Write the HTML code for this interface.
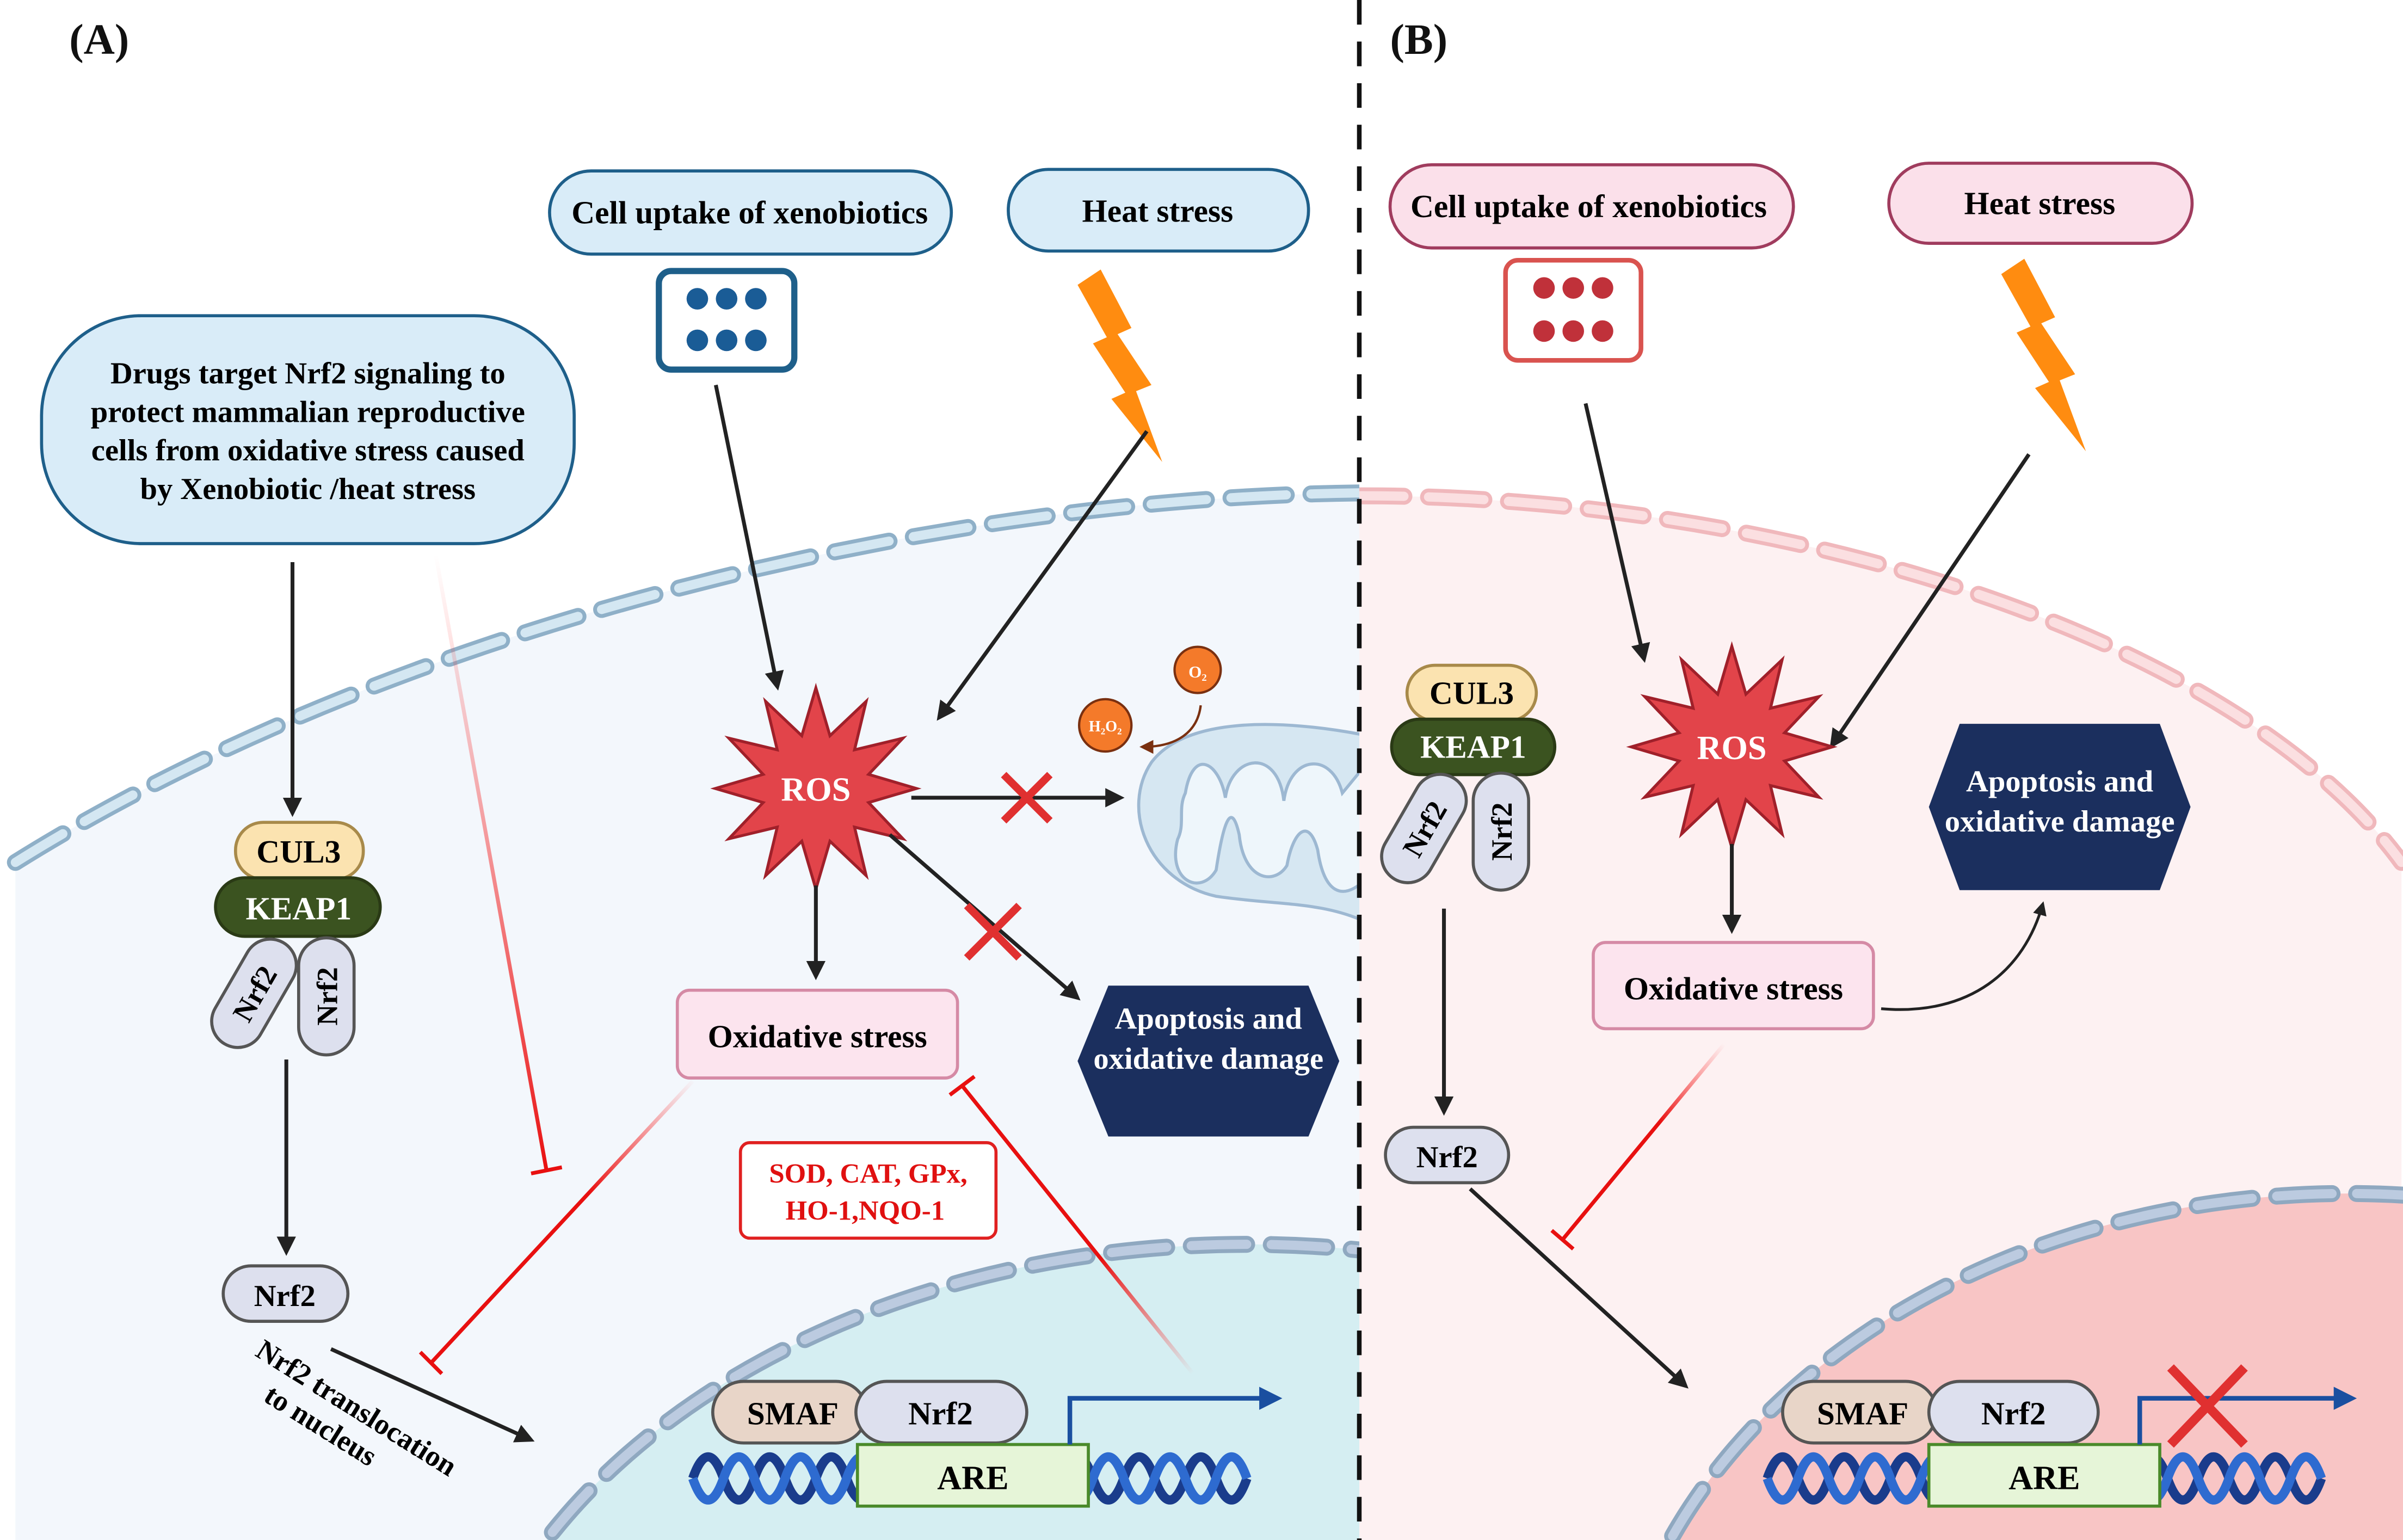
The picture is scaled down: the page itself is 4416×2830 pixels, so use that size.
<!DOCTYPE html>
<html><head><meta charset="utf-8">
<style>html,body{margin:0;padding:0;background:#fff;overflow:hidden;width:4416px;height:2830px}svg{display:block}
text{font-family:"Liberation Serif",serif;font-weight:bold}</style></head>
<body>
<svg width="4416" height="2830" viewBox="0 0 1561 1000" preserveAspectRatio="none" xmlns="http://www.w3.org/2000/svg">
<defs>
<marker id="ah" viewBox="0 0 10 10" refX="8" refY="5" markerWidth="5" markerHeight="5" orient="auto"><path d="M0,0L10,5L0,10z" fill="#222"/></marker>
<marker id="ahb" viewBox="0 0 10 10" refX="8" refY="5" markerWidth="5" markerHeight="5" orient="auto"><path d="M0,0L10,5L0,10z" fill="#1a4fa0"/></marker>
<marker id="ahr" viewBox="0 0 10 10" refX="8" refY="5" markerWidth="6" markerHeight="6" orient="auto"><path d="M0,0L10,5L0,10z" fill="#7a3010"/></marker>
<linearGradient id="g1" gradientUnits="userSpaceOnUse" x1="283" y1="360" x2="355" y2="760"><stop offset="0" stop-color="#ff4040" stop-opacity="0"/><stop offset="1" stop-color="#e81010"/></linearGradient>
<linearGradient id="g2" gradientUnits="userSpaceOnUse" x1="450" y1="700" x2="280" y2="885"><stop offset="0" stop-color="#ff4040" stop-opacity="0"/><stop offset="0.4" stop-color="#e81010"/><stop offset="1" stop-color="#e81010"/></linearGradient>
<linearGradient id="g3" gradientUnits="userSpaceOnUse" x1="775" y1="892" x2="625" y2="705"><stop offset="0" stop-color="#ff4040" stop-opacity="0"/><stop offset="0.4" stop-color="#e81010"/><stop offset="1" stop-color="#e81010"/></linearGradient>
<linearGradient id="g4" gradientUnits="userSpaceOnUse" x1="1120" y1="678" x2="1015" y2="805"><stop offset="0" stop-color="#ff4040" stop-opacity="0"/><stop offset="0.4" stop-color="#e81010"/><stop offset="1" stop-color="#e81010"/></linearGradient>
<clipPath id="cA"><rect x="0" y="0" width="883" height="1000"/></clipPath>
<clipPath id="cB"><rect x="883" y="0" width="678" height="1000"/></clipPath>
<symbol id="star" viewBox="-75 -75 150 150" overflow="visible">
<polygon points="0,-70 9.8,-36.7 35,-60.6 26.9,-26.9 60.6,-35 36.7,-9.8 70,0 36.7,9.8 60.6,35 26.9,26.9 35,60.6 9.8,36.7 0,70 -9.8,36.7 -35,60.6 -26.9,26.9 -60.6,35 -36.7,9.8 -70,0 -36.7,-9.8 -60.6,-35 -26.9,-26.9 -35,-60.6 -9.8,-36.7" fill="#e2444a" stroke="#a0202a" stroke-width="2"/>
</symbol>
<symbol id="bolt" viewBox="0 0 55 125" overflow="visible">
<polygon points="0,10 15,0 35,38 26,42 48,75 38,79 55,125 22,84 31,80 10,48 19,44" fill="#ff8c10"/>
</symbol>
</defs>

<g clip-path="url(#cA)">
<path d="M10,560 C250,410 600,322 890,320 L890,1000 L10,1000Z" fill="#f3f7fc"/>
<path d="M10,560 C250,410 600,322 890,320" fill="none" stroke="#8fb0c8" stroke-width="11" stroke-dasharray="36 16" stroke-linecap="round"/>
<path d="M10,560 C250,410 600,322 890,320" fill="none" stroke="#d4e7f2" stroke-width="6" stroke-dasharray="36 16" stroke-linecap="round"/>
<ellipse cx="810" cy="1180" rx="520" ry="372" fill="#d5eef2"/>
<ellipse cx="810" cy="1180" rx="520" ry="372" fill="none" stroke="#8fa8c0" stroke-width="11" stroke-dasharray="36 16" stroke-linecap="round"/>
<ellipse cx="810" cy="1180" rx="520" ry="372" fill="none" stroke="#bccbe0" stroke-width="6" stroke-dasharray="36 16" stroke-linecap="round"/>
<path d="M890,478 C830,466 770,466 748,495 C728,525 745,572 790,582 C830,588 860,585 890,600Z" fill="#d6e7f2" stroke="#9db8d2" stroke-width="2"/>
<path d="M770,515 C775,485 792,495 796,518 C800,490 830,485 834,520 C838,490 865,488 872,515 L886,498 L886,572 C872,585 860,580 856,552 C850,530 840,540 836,562 C828,575 808,572 805,542 C800,520 795,532 790,565 C780,582 758,572 765,545 C770,535 765,525 770,515Z" fill="#eef6fb" stroke="#9db8d2" stroke-width="2"/>
</g>

<g clip-path="url(#cB)">
<path d="M876,322 C1150,320 1450,410 1560,560 L1560,1000 L876,1000Z" fill="#fdf1f2"/>
<path d="M876,322 C1150,320 1450,410 1560,560" fill="none" stroke="#f0b8bc" stroke-width="11" stroke-dasharray="36 16" stroke-linecap="round"/>
<path d="M876,322 C1150,320 1450,410 1560,560" fill="none" stroke="#fbdfe1" stroke-width="6" stroke-dasharray="36 16" stroke-linecap="round"/>
<ellipse cx="1525" cy="1150" rx="480" ry="375" fill="#f8c5c5"/>
<ellipse cx="1525" cy="1150" rx="480" ry="375" fill="none" stroke="#8fa8c0" stroke-width="11" stroke-dasharray="36 16" stroke-linecap="round"/>
<ellipse cx="1525" cy="1150" rx="480" ry="375" fill="none" stroke="#bccbe0" stroke-width="6" stroke-dasharray="36 16" stroke-linecap="round"/>
</g>

<line x1="883" y1="0" x2="883" y2="1000" stroke="#111" stroke-width="3" stroke-dasharray="16 11"/>
<text x="45" y="35" font-size="28" fill="#111">(A)</text>
<text x="903" y="35" font-size="28" fill="#111">(B)</text>

<rect x="357" y="111" width="261" height="54" rx="27" fill="#d9ecf8" stroke="#1e5f8a" stroke-width="2"/>
<text x="487" y="145" font-size="21" text-anchor="middle">Cell uptake of xenobiotics</text>
<rect x="655" y="110" width="195" height="53" rx="26" fill="#d9ecf8" stroke="#1e5f8a" stroke-width="2"/>
<text x="752" y="144" font-size="21" text-anchor="middle">Heat stress</text>
<rect x="428" y="176" width="88" height="64" rx="8" fill="#fff" stroke="#1e5f8a" stroke-width="4"/>
<g fill="#1a5c96"><circle cx="453" cy="194" r="7"/><circle cx="472" cy="194" r="7"/><circle cx="491" cy="194" r="7"/><circle cx="453" cy="221" r="7"/><circle cx="472" cy="221" r="7"/><circle cx="491" cy="221" r="7"/></g>
<use href="#bolt" x="700" y="175" width="55" height="125"/>

<rect x="27" y="205" width="346" height="148" rx="65" fill="#d9ecf8" stroke="#1e5f8a" stroke-width="2"/>
<g font-size="20" text-anchor="middle"><text x="200" y="249">Drugs target Nrf2 signaling to</text><text x="200" y="274">protect mammalian reproductive</text><text x="200" y="299">cells from oxidative stress caused</text><text x="200" y="324">by Xenobiotic /heat stress</text></g>

<line x1="190" y1="365" x2="190" y2="528" stroke="#222" stroke-width="2.5" marker-end="url(#ah)"/>
<rect x="153" y="534" width="83" height="37" rx="18" fill="#fbe3b0" stroke="#a88a4a" stroke-width="2"/>
<text x="194" y="560" font-size="21" text-anchor="middle">CUL3</text>
<rect x="140" y="570" width="107" height="38" rx="19" fill="#3b5320" stroke="#2a3a15" stroke-width="2"/>
<text x="194" y="597" font-size="21" text-anchor="middle" fill="#fff">KEAP1</text>
<g transform="translate(165,645) rotate(30)"><rect x="-17" y="-38" width="34" height="76" rx="17" fill="#dde0ee" stroke="#555" stroke-width="2"/><text transform="rotate(-90)" x="0" y="7" font-size="19" text-anchor="middle">Nrf2</text></g>
<g transform="translate(212,647)"><rect x="-18" y="-38" width="36" height="76" rx="18" fill="#dde0ee" stroke="#555" stroke-width="2"/><text transform="rotate(-90)" x="0" y="7" font-size="19" text-anchor="middle">Nrf2</text></g>
<line x1="186" y1="688" x2="186" y2="813" stroke="#222" stroke-width="2.5" marker-end="url(#ah)"/>
<rect x="145" y="822" width="81" height="36" rx="18" fill="#dde0ee" stroke="#555" stroke-width="2"/>
<text x="185" y="848" font-size="20" text-anchor="middle">Nrf2</text>
<g transform="translate(165,880) rotate(32)" font-size="19"><text x="0" y="0">Nrf2 translocation</text><text x="20" y="22">to nucleus</text></g>
<line x1="215" y1="876" x2="345" y2="935" stroke="#222" stroke-width="2.5" marker-end="url(#ah)"/>

<line x1="283" y1="360" x2="355" y2="760" stroke="url(#g1)" stroke-width="2.5"/>
<line x1="345" y1="762" x2="365" y2="758" stroke="#e81010" stroke-width="2.5"/>
<line x1="450" y1="702" x2="280" y2="885" stroke="url(#g2)" stroke-width="2.5"/>
<line x1="273" y1="878" x2="287" y2="892" stroke="#e81010" stroke-width="2.5"/>

<line x1="465" y1="250" x2="505" y2="446" stroke="#222" stroke-width="2.5" marker-end="url(#ah)"/>
<line x1="745" y1="280" x2="610" y2="466" stroke="#222" stroke-width="2.5" marker-end="url(#ah)"/>
<use href="#star" x="460" y="442" width="140" height="140"/>
<text x="530" y="520" font-size="22" text-anchor="middle" fill="#fff" font-weight="normal">ROS</text>
<line x1="592" y1="518" x2="728" y2="518" stroke="#222" stroke-width="2.5" marker-end="url(#ah)"/>
<g stroke="#e03030" stroke-width="5"><line x1="652" y1="503" x2="682" y2="533"/><line x1="682" y1="503" x2="652" y2="533"/></g>
<line x1="578" y1="542" x2="700" y2="648" stroke="#222" stroke-width="2.5" marker-end="url(#ah)"/>
<g stroke="#e03030" stroke-width="5"><line x1="628" y1="588" x2="662" y2="622"/><line x1="662" y1="588" x2="628" y2="622"/></g>
<line x1="530" y1="575" x2="530" y2="634" stroke="#222" stroke-width="2.5" marker-end="url(#ah)"/>

<circle cx="778" cy="435" r="15" fill="#f47a2a" stroke="#7a3010" stroke-width="1.5"/>
<text x="778" y="440" font-size="11" text-anchor="middle" fill="#fff" font-family="Liberation Sans">O₂</text>
<circle cx="718" cy="471" r="17" fill="#f47a2a" stroke="#7a3010" stroke-width="1.5"/>
<text x="718" y="475" font-size="10" text-anchor="middle" fill="#fff" font-family="Liberation Sans">H₂O₂</text>
<path d="M780,458 C778,475 765,485 742,485" fill="none" stroke="#7a3010" stroke-width="1.5" marker-end="url(#ahr)"/>

<rect x="440" y="643" width="182" height="57" rx="8" fill="#fce4ee" stroke="#d58aa5" stroke-width="2"/>
<text x="531" y="680" font-size="21" text-anchor="middle">Oxidative stress</text>
<polygon points="720,640 850,640 870,689 850,738 720,738 700,689" fill="#1b2f5e"/>
<text x="785" y="668" font-size="20" text-anchor="middle" fill="#fff">Apoptosis and</text>
<text x="785" y="694" font-size="20" text-anchor="middle" fill="#fff">oxidative damage</text>

<rect x="481" y="742" width="166" height="62" rx="6" fill="#fff" stroke="#e02020" stroke-width="2"/>
<text x="564" y="768" font-size="18" text-anchor="middle" fill="#e01010">SOD, CAT, GPx,</text>
<text x="562" y="792" font-size="18" text-anchor="middle" fill="#e01010">HO-1,NQO-1</text>
<line x1="775" y1="892" x2="625" y2="705" stroke="url(#g3)" stroke-width="2.5"/>
<line x1="617" y1="711" x2="633" y2="699" stroke="#e81010" stroke-width="2.5"/>

<path d="M450,960 q10,-28 20,0 t20,0 t20,0 t20,0 t20,0 t20,0 t20,0 t20,0 t20,0 t20,0 t20,0 t20,0 t20,0 t20,0 t20,0 t20,0 t20,0 t20,0" fill="none" stroke="#1a3c8c" stroke-width="6"/>
<path d="M450,960 q10,28 20,0 t20,0 t20,0 t20,0 t20,0 t20,0 t20,0 t20,0 t20,0 t20,0 t20,0 t20,0 t20,0 t20,0 t20,0 t20,0 t20,0 t20,0" fill="none" stroke="#2e6bd0" stroke-width="6"/>
<rect x="463" y="897" width="100" height="40" rx="20" fill="#e8d5c8" stroke="#555" stroke-width="2"/>
<text x="515" y="925" font-size="21" text-anchor="middle">SMAF</text>
<rect x="556" y="897" width="111" height="40" rx="20" fill="#dde0ee" stroke="#555" stroke-width="2"/>
<text x="611" y="925" font-size="21" text-anchor="middle">Nrf2</text>
<rect x="557" y="938" width="150" height="40" fill="#e6f5d8" stroke="#4a8a2a" stroke-width="2"/>
<text x="632" y="967" font-size="22" text-anchor="middle">ARE</text>
<path d="M695,938 L695,908 L830,908" fill="none" stroke="#1a4fa0" stroke-width="3" marker-end="url(#ahb)"/>

<rect x="903" y="107" width="262" height="54" rx="27" fill="#fbe0ea" stroke="#a03c5e" stroke-width="2"/>
<text x="1032" y="141" font-size="21" text-anchor="middle">Cell uptake of xenobiotics</text>
<rect x="1227" y="106" width="197" height="52" rx="26" fill="#fbe0ea" stroke="#a03c5e" stroke-width="2"/>
<text x="1325" y="139" font-size="21" text-anchor="middle">Heat stress</text>
<rect x="978" y="169" width="88" height="65" rx="8" fill="#fff" stroke="#d9534f" stroke-width="3"/>
<g fill="#c0313a"><circle cx="1003" cy="187" r="7"/><circle cx="1022" cy="187" r="7"/><circle cx="1041" cy="187" r="7"/><circle cx="1003" cy="215" r="7"/><circle cx="1022" cy="215" r="7"/><circle cx="1041" cy="215" r="7"/></g>
<use href="#bolt" x="1300" y="168" width="55" height="125"/>

<rect x="914" y="432" width="84" height="36" rx="18" fill="#fbe3b0" stroke="#a88a4a" stroke-width="2"/>
<text x="956" y="457" font-size="21" text-anchor="middle">CUL3</text>
<rect x="904" y="467" width="106" height="36" rx="18" fill="#3b5320" stroke="#2a3a15" stroke-width="2"/>
<text x="957" y="492" font-size="21" text-anchor="middle" fill="#fff">KEAP1</text>
<g transform="translate(925,538) rotate(30)"><rect x="-17" y="-38" width="34" height="76" rx="17" fill="#dde0ee" stroke="#555" stroke-width="2"/><text transform="rotate(-90)" x="0" y="7" font-size="19" text-anchor="middle">Nrf2</text></g>
<g transform="translate(975,540)"><rect x="-18" y="-38" width="36" height="76" rx="18" fill="#dde0ee" stroke="#555" stroke-width="2"/><text transform="rotate(-90)" x="0" y="7" font-size="19" text-anchor="middle">Nrf2</text></g>
<line x1="938" y1="590" x2="938" y2="722" stroke="#222" stroke-width="2.5" marker-end="url(#ah)"/>
<rect x="900" y="732" width="80" height="36" rx="18" fill="#dde0ee" stroke="#555" stroke-width="2"/>
<text x="940" y="758" font-size="20" text-anchor="middle">Nrf2</text>
<line x1="955" y1="772" x2="1095" y2="900" stroke="#222" stroke-width="2.5" marker-end="url(#ah)"/>

<line x1="1030" y1="262" x2="1068" y2="428" stroke="#222" stroke-width="2.5" marker-end="url(#ah)"/>
<line x1="1318" y1="295" x2="1190" y2="484" stroke="#222" stroke-width="2.5" marker-end="url(#ah)"/>
<use href="#star" x="1055" y="415" width="140" height="140"/>
<text x="1125" y="493" font-size="22" text-anchor="middle" fill="#fff" font-weight="normal">ROS</text>
<line x1="1125" y1="548" x2="1125" y2="604" stroke="#222" stroke-width="2.5" marker-end="url(#ah)"/>
<rect x="1035" y="612" width="182" height="56" rx="8" fill="#fce4ee" stroke="#d58aa5" stroke-width="2"/>
<text x="1126" y="649" font-size="21" text-anchor="middle">Oxidative stress</text>
<polygon points="1273,470 1403,470 1423,524 1403,578 1273,578 1253,524" fill="#1b2f5e"/>
<text x="1338" y="514" font-size="20" text-anchor="middle" fill="#fff">Apoptosis and</text>
<text x="1338" y="540" font-size="20" text-anchor="middle" fill="#fff">oxidative damage</text>
<path d="M1222,655 C1280,660 1315,630 1327,587" fill="none" stroke="#222" stroke-width="1.8" marker-end="url(#ah)"/>
<line x1="1120" y1="678" x2="1015" y2="805" stroke="url(#g4)" stroke-width="2.5"/>
<line x1="1008" y1="799" x2="1022" y2="811" stroke="#e81010" stroke-width="2.5"/>

<path d="M1148,960 q10,-28 20,0 t20,0 t20,0 t20,0 t20,0 t20,0 t20,0 t20,0 t20,0 t20,0 t20,0 t20,0 t20,0 t20,0 t20,0 t20,0 t20,0 t20,0" fill="none" stroke="#1a3c8c" stroke-width="6"/>
<path d="M1148,960 q10,28 20,0 t20,0 t20,0 t20,0 t20,0 t20,0 t20,0 t20,0 t20,0 t20,0 t20,0 t20,0 t20,0 t20,0 t20,0 t20,0 t20,0 t20,0" fill="none" stroke="#2e6bd0" stroke-width="6"/>
<rect x="1158" y="897" width="100" height="40" rx="20" fill="#e8d5c8" stroke="#555" stroke-width="2"/>
<text x="1210" y="925" font-size="21" text-anchor="middle">SMAF</text>
<rect x="1253" y="897" width="110" height="40" rx="20" fill="#dde0ee" stroke="#555" stroke-width="2"/>
<text x="1308" y="925" font-size="21" text-anchor="middle">Nrf2</text>
<rect x="1253" y="938" width="150" height="40" fill="#e6f5d8" stroke="#4a8a2a" stroke-width="2"/>
<text x="1328" y="967" font-size="22" text-anchor="middle">ARE</text>
<path d="M1390,938 L1390,908 L1528,908" fill="none" stroke="#1a4fa0" stroke-width="3" marker-end="url(#ahb)"/>
<g stroke="#e03030" stroke-width="6"><line x1="1410" y1="888" x2="1458" y2="938"/><line x1="1458" y1="888" x2="1410" y2="938"/></g>
</svg>
</body></html>
